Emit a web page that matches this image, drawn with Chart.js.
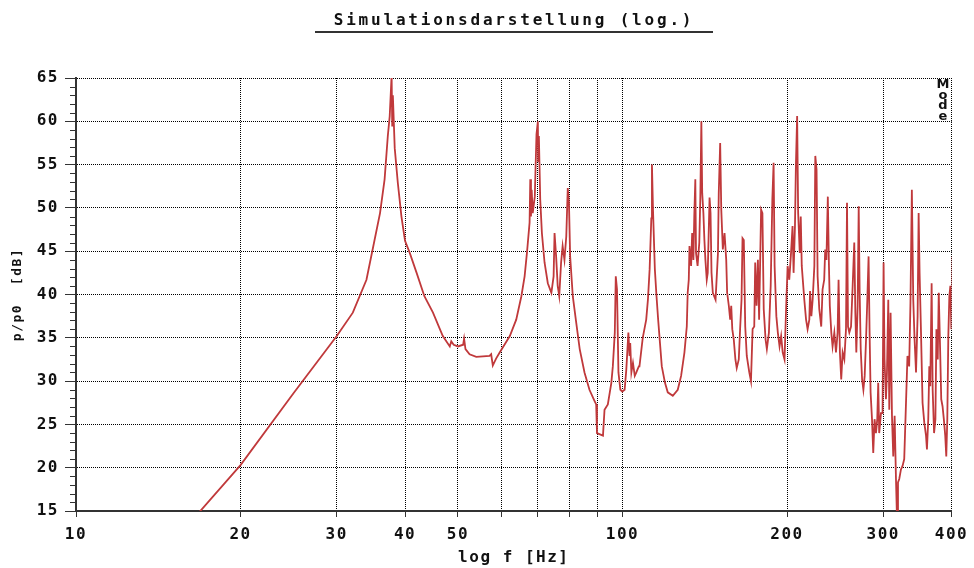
<!DOCTYPE html>
<html>
<head>
<meta charset="utf-8">
<script src="https://cdn.jsdelivr.net/npm/chart.js@4.4.1/dist/chart.umd.min.js"></script>
<style>
  html, body { margin: 0; padding: 0; background: #fff; }
  #wrap { position: relative; width: 974px; height: 568px; overflow: hidden; }
  #chart { position: absolute; left: 0; top: 0; }
  .title {
    position: absolute; left: 315px; width: 398px; top: 11px;
    text-align: center; color: #111;
    font: bold 16px "DejaVu Sans Mono", monospace; line-height: 18px;
    letter-spacing: 2.8px; padding-bottom: 2px; border-bottom: 2px solid #333;
  }
  .mode {
    position: absolute; left: 935px; top: 79px; width: 16px;
    text-align: center; color: #111;
    font: bold 13px "DejaVu Sans", sans-serif; line-height: 10.5px;
  }
</style>
</head>
<body>
<div id="wrap">
  <canvas id="chart" width="974" height="568"></canvas>
  <div class="title">Simulationsdarstellung (log.)</div>
  <div class="mode">M<br>o<br>d<br>e</div>
</div>
<script>
// Frequency response, split into bands (Hz / dB)
const freqLow = [15, 20, 25, 30, 32.1, 34.0, 35.0, 36.0, 36.7, 37.2, 37.5, 37.8, 37.9, 38.0, 38.3, 38.8, 39.4, 40.0, 40.8, 42.0,
    43.4, 45.0, 46.9, 48.3, 48.6, 49.1, 50.0, 51.1, 51.3, 51.6, 52.5, 54.0, 57.1, 57.5, 57.9, 58.7];
const levelLow = [11.3, 20.3, 28.6, 35.2, 37.9, 41.7, 45.6, 49.4, 53.3, 58.3, 60.6, 65.3, 59.5, 63.0, 56.9, 52.9, 49.0, 46.2, 44.8, 42.5,
    39.8, 37.9, 35.2, 34.0, 34.6, 34.2, 34.0, 34.2, 34.9, 33.7, 33.1, 32.8, 32.9, 33.1, 31.8, 32.6];

const freqMid = [59.6, 62.2, 63.9, 65.3, 66.2, 66.9, 67.6, 67.8, 68.0, 68.2, 68.5, 69.1, 69.6, 70.0, 70.1, 70.3, 70.7, 71.2, 72.0, 73.0,
    74.1, 74.8, 75.1, 75.6, 76.1, 76.6, 77.2, 77.7, 78.3, 78.9, 79.4, 79.8, 80.2, 81.1, 82.3, 83.5, 85.2, 87.0, 88.9, 89.5,
    89.8, 92.1, 92.7, 94.0, 95.4, 96.0, 96.8, 97.2, 97.7, 98.3, 99.1, 99.9, 100.9, 101.6, 102.5, 103.0, 103.3, 103.8, 104.5, 105.3,
    106.0, 107.1];
const levelMid = [33.3, 35.2, 37.1, 39.8, 42.1, 45.0, 48.3, 53.3, 49.0, 52.1, 49.4, 51.3, 58.5, 60.0, 55.4, 58.3, 51.0, 47.1, 43.7, 41.3,
    40.2, 42.1, 47.1, 44.4, 41.0, 39.8, 43.7, 45.6, 44.0, 46.7, 52.3, 50.6, 44.4, 39.8, 36.7, 33.7, 31.0, 29.0, 27.7, 27.3,
    24.0, 23.7, 26.7, 27.3, 29.8, 31.7, 35.6, 42.1, 40.6, 31.0, 29.0, 28.8, 29.0, 31.3, 35.6, 32.9, 34.4, 31.0, 32.1, 30.6,
    31.0, 31.7];

const freqUpper = [107.4, 108.9, 110.5, 111.3, 112.1, 112.9, 113.2, 113.7, 114.6, 115.4,
    116.2, 118.0, 119.6, 121.0, 123.6, 126.2, 128.0, 129.8, 131.1, 131.6,
    132.2, 132.6, 133.5, 134.1, 134.8, 135.3, 135.9, 136.3, 137.2, 138.2,
    138.8, 139.4, 139.9, 140.6, 141.2, 141.8, 142.6, 143.2, 144.3, 144.9,
    145.5, 146.3, 148.0, 149.5, 150.0, 150.9, 151.6, 152.6, 153.7, 154.8,
    155.4, 156.5, 157.4, 158.1, 158.8, 159.8, 160.9, 161.8, 163.2, 164.2,
    165.1, 165.8, 166.7, 167.7, 168.8, 170.6, 171.8, 173.0, 174.2, 174.9,
    175.9, 176.9, 177.8, 179.3, 180.3, 181.3, 182.7, 183.7, 185.3, 186.7,
    188.0, 189.0, 189.8, 191.2, 192.4, 193.8, 195.1, 196.4, 197.9, 199.3];
const levelUpper = [31.7, 35.0, 37.1, 39.4, 42.9, 48.8, 55.0, 49.8, 42.9, 39.8,
    37.1, 31.7, 29.8, 28.7, 28.3, 29.0, 30.6, 33.3, 36.3, 40.2,
    41.7, 45.6, 43.3, 47.1, 44.0, 49.0, 53.3, 44.8, 43.3, 46.0,
    51.3, 60.0, 51.7, 49.4, 46.3, 44.0, 41.7, 42.5, 51.2, 49.4,
    42.5, 40.2, 39.4, 44.8, 51.7, 57.5, 49.8, 45.2, 47.1, 44.0,
    40.2, 38.7, 37.1, 38.7, 36.0, 34.8, 32.5, 31.5, 32.5, 36.3,
    39.4, 46.5, 46.3, 36.3, 32.9, 31.0, 30.0, 36.0, 36.3, 43.7,
    38.7, 44.0, 37.1, 49.8, 49.4, 38.3, 34.8, 33.7, 35.6, 41.0,
    51.0, 55.2, 43.3, 37.5, 35.6, 34.0, 35.2, 33.3, 32.5, 38.7];

const freqHigh = [200.5, 201.9, 203.4, 204.7, 205.6, 206.8, 207.6, 208.7, 209.6, 211.0,
    211.9, 212.8, 215.1, 216.7, 218.1, 219.7, 220.4, 221.6, 222.8, 224.4,
    225.3, 226.5, 227.5, 229.1, 231.0, 232.3, 233.9, 234.9, 236.1, 237.5,
    238.5, 239.5, 241.0, 242.3, 244.1, 245.8, 247.5, 248.5, 249.9, 251.3,
    252.8, 254.6, 256.4, 257.5, 258.6, 260.0, 261.9, 263.7, 265.5, 266.7,
    267.8, 269.3, 270.5, 271.6, 272.8, 274.4, 275.9, 277.4, 279.0, 280.5,
    282.0, 283.2, 284.4, 286.1, 287.6, 289.2, 290.9, 292.5, 293.7, 294.9,
    297.1, 299.1, 300.4, 301.6, 303.4, 304.7, 306.4, 307.7, 309.4, 311.2,
    312.9, 314.7, 316.5, 317.9, 319.2, 320.9, 323.2, 325.4, 327.7, 330.0,
    332.2, 334.6, 336.4, 338.4, 340.4, 342.3, 344.4, 346.7, 348.2, 349.6,
    351.7, 354.0, 356.6, 359.2, 360.6, 362.6, 364.2, 365.7, 367.8, 369.4,
    371.6, 373.7, 375.3, 377.4, 379.0, 381.3, 383.0, 385.1, 387.2, 389.5,
    391.2, 392.9, 394.6, 396.3, 398.0, 399.7, 401.5];
const levelHigh = [43.3, 41.7, 44.8, 47.9, 42.5, 47.9, 54.8, 60.6, 49.4, 44.8,
    49.0, 43.3, 39.4, 37.1, 36.0, 37.1, 40.4, 37.5, 39.4, 43.3,
    56.0, 54.4, 42.1, 38.3, 36.3, 40.6, 41.7, 45.2, 44.0, 51.3,
    44.0, 38.7, 35.6, 34.0, 35.6, 33.3, 35.6, 41.7, 33.3, 30.2,
    33.3, 32.5, 36.0, 50.6, 36.3, 35.6, 36.3, 41.0, 46.0, 37.9,
    33.3, 38.7, 50.2, 40.2, 33.7, 30.2, 29.0, 30.6, 34.8, 39.4,
    44.4, 35.6, 28.7, 25.6, 21.7, 25.6, 24.0, 25.6, 29.8, 24.0,
    26.3, 26.3, 43.7, 32.5, 27.9, 31.0, 39.4, 26.7, 37.9, 26.0,
    21.3, 26.0, 18.7, 14.0, 18.3, 18.7, 19.8, 20.2, 21.0, 27.1,
    32.9, 31.7, 39.0, 52.1, 39.4, 34.8, 31.0, 37.5, 49.4, 42.5,
    35.6, 27.5, 25.2, 23.7, 22.1, 25.6, 31.7, 29.4, 41.3, 29.0,
    24.0, 25.6, 36.0, 32.5, 40.2, 33.3, 27.9, 27.1, 25.6, 23.7,
    21.3, 25.6, 35.2, 39.8, 41.0, 36.0, 44.4];

// Axis ticks
const xTickValues = [10, 20, 30, 40, 50, 60, 70, 80, 90, 100, 200, 300, 400];
const xTickLabels = [10, 20, 30, 40, 50, 100, 200, 300, 400];
const yMin = 15, yMax = 65, yStep = 5;

const points = [];
[[freqLow, levelLow], [freqMid, levelMid], [freqUpper, levelUpper], [freqHigh, levelHigh]].forEach(([f, l]) => {
    f.forEach((v, i) => points.push({ x: v, y: l[i] }));
});

const labelFont = { family: "'DejaVu Sans Mono', monospace", size: 16, weight: 'bold' };

// wide bitmap-like lettering + small 1 dB ticks on the y axis
const axisExtras = {
    id: 'axisExtras',
    beforeDraw(chart) {
        chart.ctx.letterSpacing = '1.5px';
    },
    afterDraw(chart) {
        const { ctx, scales: { y } } = chart;
        ctx.save();
        ctx.strokeStyle = '#333';
        ctx.lineWidth = 1;
        for (let v = yMin; v <= yMax; v += 1) {
            if (v % yStep === 0) continue;
            const py = Math.round(y.getPixelForValue(v)) + 0.5;
            ctx.beginPath();
            ctx.moveTo(y.right - 6, py);
            ctx.lineTo(y.right, py);
            ctx.stroke();
        }
        ctx.restore();
    }
};

new Chart(document.getElementById('chart'), {
    type: 'line',
    data: {
        datasets: [{
            data: points,
            borderColor: '#c0393b',
            borderWidth: 1.8,
            pointRadius: 0,
            tension: 0,
            fill: false
        }]
    },
    options: {
        responsive: false,
        animation: false,
        devicePixelRatio: 1,
        layout: { padding: { left: 8, right: 22, top: 78, bottom: 0 } },
        plugins: { legend: { display: false }, tooltip: { enabled: false } },
        scales: {
            x: {
                type: 'logarithmic',
                min: 10,
                max: 400,
                afterBuildTicks: axis => { axis.ticks = xTickValues.map(v => ({ value: v })); },
                afterFit: s => { s.height = 57; },
                ticks: {
                    autoSkip: false,
                    maxRotation: 0,
                    padding: 8,
                    color: '#111',
                    font: labelFont,
                    callback: v => xTickLabels.includes(v) ? String(v) : ''
                },
                grid: {
                    color: '#000',
                    lineWidth: 1,
                    tickLength: 6,
                    tickColor: '#333',
                    tickWidth: 1,
                    tickBorderDash: []
                },
                border: { display: true, color: '#333', width: 2, dash: [1, 1] },
                title: {
                    display: true,
                    text: 'log f [Hz]',
                    color: '#111',
                    font: { family: "'DejaVu Sans Mono', monospace", size: 16, weight: 'bold' },
                    padding: { top: 0, bottom: 1 }
                }
            },
            y: {
                min: yMin,
                max: yMax,
                afterFit: s => { s.width = 68; },
                ticks: {
                    stepSize: yStep,
                    padding: 6,
                    color: '#111',
                    font: labelFont
                },
                grid: {
                    color: '#000',
                    lineWidth: 1,
                    tickLength: 11,
                    tickColor: '#333',
                    tickWidth: 1,
                    tickBorderDash: []
                },
                border: { display: true, color: '#333', width: 2, dash: [1, 1] },
                title: {
                    display: true,
                    text: 'p/p0  [dB]',
                    color: '#111',
                    font: { family: "'DejaVu Sans Mono', monospace", size: 13, weight: 'bold' },
                    padding: { top: 2, bottom: 0 }
                }
            }
        }
    },
    plugins: [axisExtras]
});
</script>
</body>
</html>
